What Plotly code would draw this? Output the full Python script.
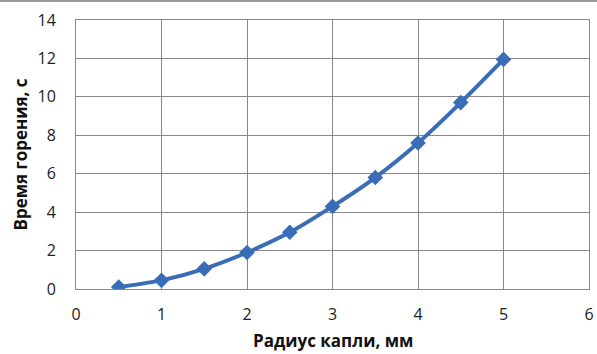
import plotly.graph_objects as go

radius_mm = [0.5, 1, 1.5, 2, 2.5, 3, 3.5, 4, 4.5, 5]
burn_time_s = [0.1, 0.45, 1.05, 1.9, 2.95, 4.3, 5.8, 7.6, 9.7, 11.95]
x_ticks = [0, 1, 2, 3, 4, 5, 6]
y_ticks = [0, 2, 4, 6, 8, 10, 12, 14]

color = "#3A6DB7"
font = "Open Sans, Liberation Sans, DejaVu Sans, sans-serif"

fig = go.Figure(go.Scatter(
    x=radius_mm, y=burn_time_s, mode="lines+markers",
    line=dict(color=color, width=4, shape="spline", smoothing=0.6),
    marker=dict(symbol="diamond", size=12, color=color),
))

fig.update_layout(
    width=597, height=354,
    margin=dict(l=76, r=8, t=20, b=65, autoexpand=False),
    paper_bgcolor="white", plot_bgcolor="white",
    showlegend=False,
    font=dict(family=font, color="#222", size=16),
    xaxis=dict(range=[0, 6], tickvals=x_ticks, showgrid=True, gridcolor="#888888",
               gridwidth=1, showline=True, linecolor="#888888", mirror=True,
               zeroline=False, ticks="", automargin=False, ticklabelstandoff=11,
               tickfont=dict(size=16)),
    yaxis=dict(range=[0, 14], tickvals=y_ticks, showgrid=True, gridcolor="#888888",
               gridwidth=1, showline=True, linecolor="#888888", mirror=True,
               zeroline=False, ticks="", automargin=False, ticklabelstandoff=16,
               tickfont=dict(size=16)),
    annotations=[
        dict(text="<b>Радиус капли, мм</b>", xref="paper", yref="paper",
             x=0.5, y=-51/269, xanchor="center", yanchor="middle", showarrow=False,
             font=dict(size=17, color="#111")),
        dict(text="<b>Время горения, с</b>", xref="paper", yref="paper",
             x=-56/513, y=0.5, xanchor="center", yanchor="middle", showarrow=False,
             textangle=-90, font=dict(size=17, color="#111")),
    ],
    shapes=[dict(type="line", xref="paper", yref="paper", x0=-0.2, x1=1.1,
                 y0=1.0 + 19/269, y1=1.0 + 19/269, line=dict(color="#999", width=2))],
)

fig.write_html("out.html", config={"displayModeBar": False},
               post_script="document.body.style.margin='0';document.body.style.overflow='hidden';")
